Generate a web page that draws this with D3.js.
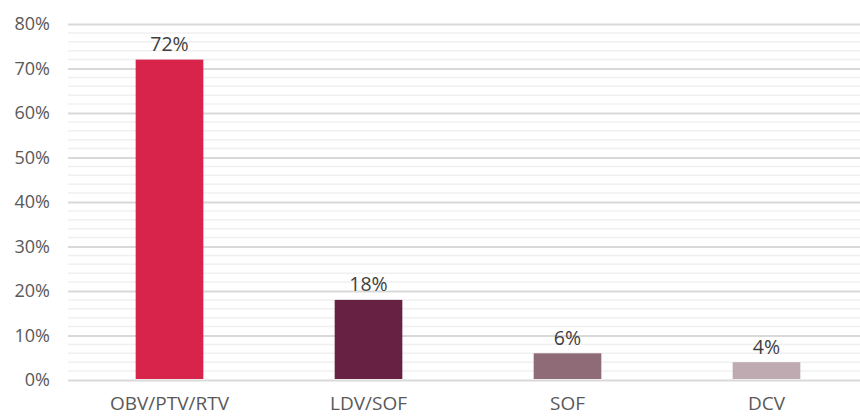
<!DOCTYPE html>
<html>
<head>
<meta charset="utf-8">
<script src="https://cdn.jsdelivr.net/npm/d3@7"></script>
<style>
  html, body { margin: 0; padding: 0; background: #fff; }
  svg { display: block; font-family: "Open Sans", "Noto Sans", sans-serif; }
</style>
</head>
<body>
<svg id="chart" width="860" height="417"></svg>
<script>
// Share of regimens by category
const categories = ["OBV/PTV/RTV", "LDV/SOF", "SOF", "DCV"];
const shares = [72, 18, 6, 4];
const barColors = ["#D8234B", "#672243", "#8F6B78", "#BFAAB1"];
const majorTicks = [0, 10, 20, 30, 40, 50, 60, 70, 80];

const svg = d3.select("#chart");
const gridLeft = 68, gridRight = 860;

const x = d3.scaleBand()
  .domain(categories)
  .range([70, 866])
  .paddingInner(0.66)
  .paddingOuter(0.33);

const y = d3.scaleLinear()
  .domain([0, 80])
  .range([380, 24]);

// minor grid every 2%
const minor = d3.range(0, 81, 2).filter(v => v % 10 !== 0);
svg.append("g").selectAll("line").data(minor).join("line")
  .attr("x1", gridLeft).attr("x2", gridRight)
  .attr("y1", d => y(d)).attr("y2", d => y(d))
  .attr("stroke", "#f0f0f0").attr("stroke-width", 1.5);

// major grid and tick labels via axis
const yAxis = d3.axisLeft(y)
  .tickValues(majorTicks)
  .tickFormat(d => d + "%")
  .tickSize(-(gridRight - gridLeft))
  .tickPadding(18);

const ga = svg.append("g").attr("transform", `translate(${gridLeft},0)`).call(yAxis);
ga.select(".domain").remove();
ga.selectAll(".tick line").attr("stroke", "#d9d9d9").attr("stroke-width", 1.8);
ga.selectAll(".tick text")
  .attr("fill", "#595959")
  .attr("font-size", 18)
  .attr("font-family", "\"Open Sans\", sans-serif");

// bars
svg.append("g").selectAll("rect").data(categories).join("rect")
  .attr("x", d => x(d))
  .attr("width", x.bandwidth())
  .attr("y", (d, i) => y(shares[i]))
  .attr("height", (d, i) => y(0) - y(shares[i]) - 1)
  .attr("fill", (d, i) => barColors[i]);

// value labels
svg.append("g").selectAll("text").data(categories).join("text")
  .attr("x", d => x(d) + x.bandwidth() / 2)
  .attr("y", (d, i) => y(shares[i]) - 8.5)
  .attr("text-anchor", "middle")
  .attr("fill", "#404040")
  .attr("font-size", 19.5)
  .text((d, i) => shares[i] + "%");

// category axis
const xAxis = d3.axisBottom(x).tickSize(0).tickPadding(17);
const gx = svg.append("g").attr("transform", "translate(0,380)").call(xAxis);
gx.select(".domain").remove();
gx.selectAll(".tick text")
  .attr("fill", "#595959")
  .attr("font-size", 19)
  .attr("font-family", "\"Open Sans\", sans-serif");
</script>
</body>
</html>
